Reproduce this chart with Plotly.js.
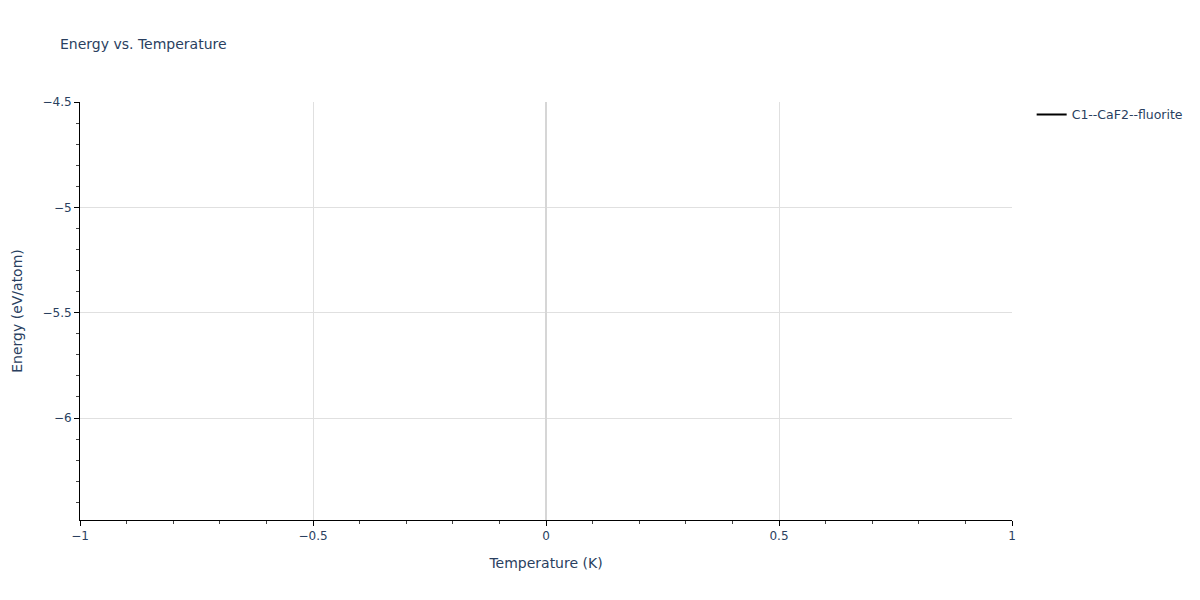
<!DOCTYPE html>
<html>
<head>
<meta charset="utf-8">
<script src="https://cdn.plot.ly/plotly-3.0.1.min.js"></script>
<style>body{margin:0;padding:0;}#chart{width:1200px;height:600px;}</style>
</head>
<body>
<div id="chart"></div>
<script>
const seriesName = "C1--CaF2--fluorite";
const temperatures = [0];
const energies = [-5.492];
const xRange = [-1, 1];
const yRange = [-6.484, -4.5];

const trace = {
  x: temperatures,
  y: energies,
  type: 'scatter',
  mode: 'lines',
  name: seriesName,
  showlegend: true,
  line: {color: '#000000', width: 2}
};

const axisCommon = {
  showline: true,
  linecolor: '#000000',
  linewidth: 1,
  ticks: 'outside',
  tickcolor: '#000000',
  ticklen: 5,
  gridcolor: '#e0e0e0',
  gridwidth: 1,
  zeroline: false,
  minor: {ticks: 'outside', ticklen: 3, tickcolor: '#444', showgrid: false},
  tickfont: {color: '#2a3f5f', size: 12},
  automargin: false
};

const layout = {
  width: 1200,
  height: 600,
  paper_bgcolor: '#ffffff',
  plot_bgcolor: '#ffffff',
  font: {family: '"DejaVu Sans", verdana, sans-serif', color: '#2a3f5f', size: 12},
  title: {text: 'Energy vs. Temperature', x: 0.05, xanchor: 'left', y: 0.935, font: {size: 14, color: '#2a3f5f'}},
  margin: {l: 80, r: 187, t: 102, b: 80},
  showlegend: true,
  legend: {x: 1.02, y: 1.005, xanchor: 'left', yanchor: 'top', font: {size: 12.5, color: '#2a3f5f'}},
  xaxis: Object.assign({}, axisCommon, {
    range: xRange,
    dtick: 0.5,
    zeroline: true,
    zerolinecolor: '#d6d6d6',
    zerolinewidth: 2,
    title: {text: 'Temperature (K)', standoff: 15, font: {size: 14, color: '#2a3f5f'}}
  }),
  yaxis: Object.assign({}, axisCommon, {
    range: yRange,
    dtick: 0.5,
    title: {text: 'Energy (eV/atom)', standoff: 16, font: {size: 14, color: '#2a3f5f'}}
  })
};

Plotly.newPlot('chart', [trace], layout, {displayModeBar: false});
</script>
</body>
</html>
